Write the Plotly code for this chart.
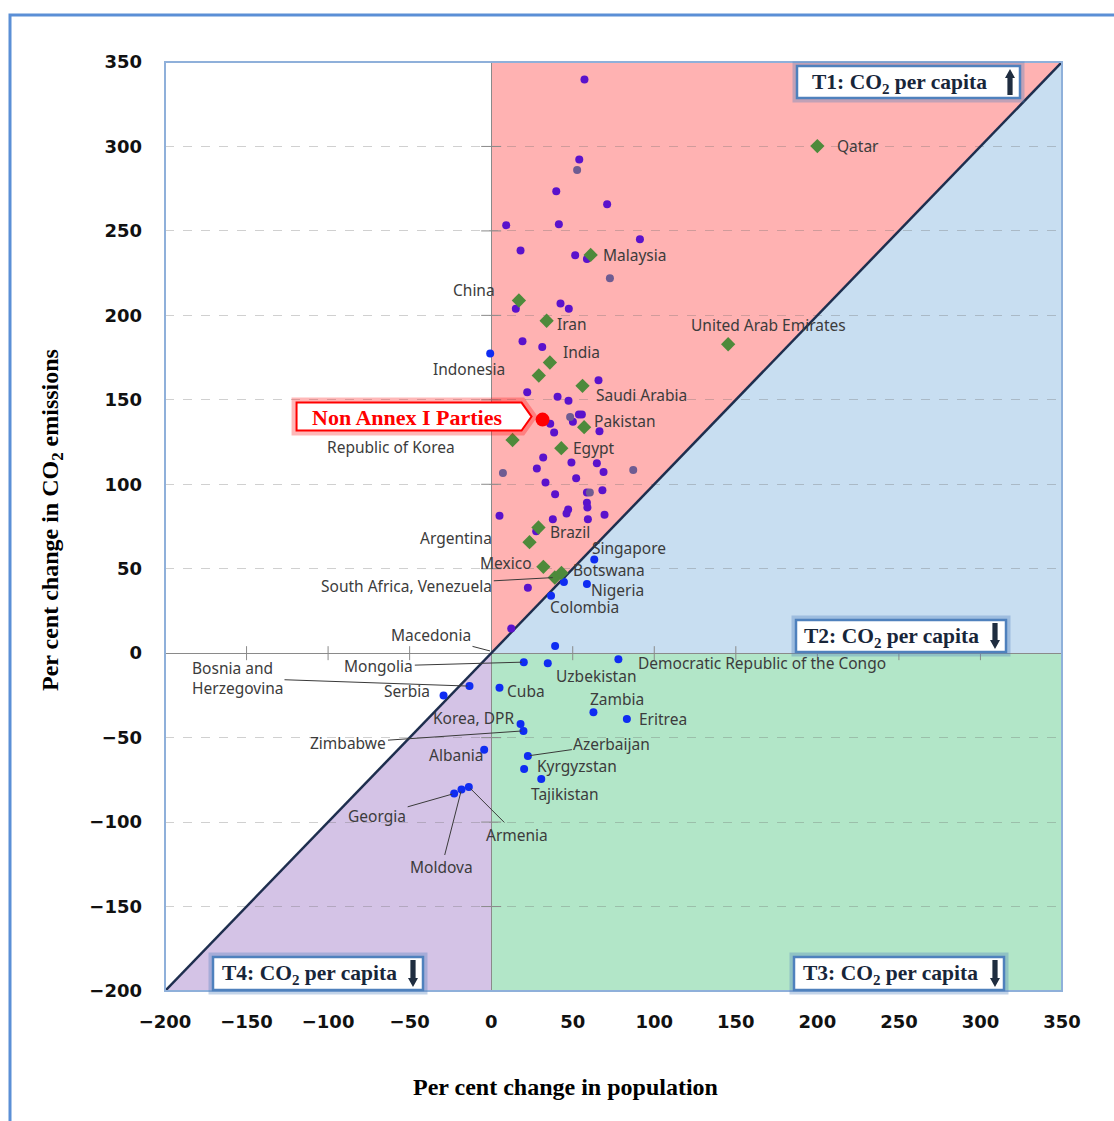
import plotly.graph_objects as go

# ---------------------------------------------------------------- data
X_RANGE = [-200, 350]
Y_RANGE = [-200, 350]
TICK_VALUES = [-200, -150, -100, -50, 0, 50, 100, 150, 200, 250, 300, 350]

# unlabelled parties in T1 (population up, CO2 per capita up)
t1_x = [57.2, 54.0, 39.9, 71.1, 9.2, 41.5, 91.2, 18.0, 51.5, 58.7, 42.5, 15.1,
        47.6, 19.2, 31.3, 65.8, 22.1, 40.7, 47.4, 53.8, 55.6, 50.1, 36.2, 38.6,
        66.4, 31.9, 28.0, 49.2, 64.8, 68.9, 52.1, 33.3, 58.7, 68.2, 39.2, 58.7,
        59.0, 47.2, 46.2, 5.1, 69.5, 37.8, 59.3, 27.6, 22.5, 12.3]
t1_y = [339.6, 292.3, 273.5, 265.8, 253.4, 254.0, 245.0, 238.4, 235.6, 233.3,
        207.0, 203.9, 203.9, 184.7, 181.2, 161.6, 154.5, 151.8, 149.4, 141.3,
        141.3, 137.0, 135.8, 130.7, 131.4, 115.9, 109.3, 112.9, 112.5, 107.2,
        103.6, 101.1, 95.1, 96.5, 94.1, 89.0, 86.3, 85.1, 82.7, 81.3, 81.9,
        79.3, 79.3, 72.2, 38.7, 14.6]

# unlabelled parties drawn in a muted tone
muted_x = [52.7, 72.8, 48.4, 7.2, 87.1, 60.5]
muted_y = [286.0, 222.0, 139.9, 106.6, 108.5, 95.1]

# unlabelled parties drawn in blue
blue_x = [-0.6, 39.2]
blue_y = [177.4, 4.3]

# labelled major emitters (diamonds)
major_names = ["Qatar", "Malaysia", "China", "Iran", "United Arab Emirates",
               "India", "Indonesia", "Saudi Arabia", "Pakistan",
               "Republic of Korea", "Egypt", "Brazil", "Argentina", "Mexico",
               "South Africa, Venezuela", "Venezuela"]
major_x = [200.0, 61.0, 17.0, 34.0, 145.3, 36.0, 29.2, 56.0, 57.0, 13.1, 43.0,
           29.0, 23.5, 32.0, 39.0, 43.1]
major_y = [300.2, 235.8, 208.8, 196.8, 182.9, 172.1, 164.4, 158.3, 133.8,
           126.2, 121.4, 74.4, 65.7, 51.1, 44.8, 47.5]

# labelled parties with falling CO2 per capita (blue dots)
other_names = ["Singapore", "Botswana", "Nigeria", "Colombia", "Mongolia",
               "Uzbekistan", "Democratic Republic of the Congo",
               "Bosnia and<br>Herzegovina", "Serbia", "Cuba", "Zambia",
               "Eritrea", "Korea, DPR", "Zimbabwe", "Azerbaijan", "Albania",
               "Kyrgyzstan", "Tajikistan", "Georgia", "Armenia", "Moldova"]
other_x = [63.2, 44.6, 58.7, 36.7, 20.0, 34.7, 78.0, -13.3, -29.2, 5.1, 62.7,
           83.2, 18.0, 19.8, 22.5, -4.3, 20.2, 30.7, -22.7, -13.7, -18.2]
other_y = [55.5, 42.2, 41.0, 34.0, -5.3, -5.9, -3.6, -19.5, -25.0, -20.5,
           -34.9, -38.9, -42.0, -46.0, -60.8, -57.2, -68.5, -74.5, -83.1,
           -79.2, -80.7]

# aggregate of all Non Annex I Parties
non_annex_x = 31.5
non_annex_y = 138.3
MACEDONIA_ANCHOR = (0.5, 1.0)

# label placement: text-centre offset in px from the mark, and leader line flag
LABEL_STYLE = {
    "Qatar": (41, 0, False), "Malaysia": (44, 0, False), "China": (-45, -11, False),
    "Iran": (25, 3, False), "United Arab Emirates": (40, -19, False),
    "India": (32, -10, False), "Indonesia": (-70, -7, False),
    "Saudi Arabia": (59, 9, False), "Pakistan": (41, -6, False),
    "Republic of Korea": (-122, 7, False), "Egypt": (33, 0, False),
    "Brazil": (32, 4, False), "Argentina": (-74, -4, False),
    "Mexico": (-37, -4, False), "South Africa, Venezuela": (-148, 8, True),
    "Singapore": (35, -11, False), "Botswana": (45, -12, False),
    "Nigeria": (31, 6, False), "Colombia": (33, 11, False),
    "Mongolia": (-145, 4, True), "Uzbekistan": (48, 13, False),
    "Democratic Republic of the Congo": (144, 4, False),
    "Bosnia and<br>Herzegovina": (-232, -8, True), "Serbia": (-37, -4, False),
    "Cuba": (26, 3, False), "Zambia": (24, -13, False), "Eritrea": (36, 0, False),
    "Korea, DPR": (-47, -6, False), "Zimbabwe": (-175, 12, True),
    "Azerbaijan": (84, -12, True), "Albania": (-28, 5, False),
    "Kyrgyzstan": (53, -3, False), "Tajikistan": (24, 15, False),
    "Georgia": (-77, 22, True), "Armenia": (48, 48, True), "Moldova": (-20, 78, True),
    "Macedonia": (-61, -16, True),
}

# ---------------------------------------------------------------- geometry
W, H = 1114, 1121
M_L, M_R, M_T, M_B = 165, 52, 62, 130
PW, PH = W - M_L - M_R, H - M_T - M_B


def paper(px, py):
    """Convert a page pixel position to paper coordinates."""
    return (px - M_L) / PW, (M_T + PH - py) / PH


def to_px(x, y):
    sx = PW / (X_RANGE[1] - X_RANGE[0])
    sy = PH / (Y_RANGE[1] - Y_RANGE[0])
    return M_L + (x - X_RANGE[0]) * sx, M_T + (Y_RANGE[1] - y) * sy


def paper_text(px, py, text, font, **kw):
    x, y = paper(px, py)
    return dict(xref="paper", yref="paper", x=x, y=y, xanchor="center",
                yanchor="middle", showarrow=False, text=text, font=font, **kw)


PINK, BLUE_Q, GREEN_Q, PURPLE_Q = "#FFB2B2", "#C8DEF1", "#B2E6C8", "#D4C3E6"
xmin, xmax = X_RANGE
ymin, ymax = Y_RANGE

fig = go.Figure()

shapes = []
# quadrant fills
shapes.append(dict(type="path", xref="x", yref="y", layer="below", line_width=0,
                   fillcolor=PINK, path=f"M0,0 L0,{ymax} L{ymax},{ymax} Z"))
shapes.append(dict(type="path", xref="x", yref="y", layer="below", line_width=0,
                   fillcolor=BLUE_Q, path=f"M0,0 L{xmax},{xmax} L{xmax},0 Z"))
shapes.append(dict(type="path", xref="x", yref="y", layer="below", line_width=0,
                   fillcolor=GREEN_Q, path=f"M0,0 L{xmax},0 L{xmax},{ymin} L0,{ymin} Z"))
shapes.append(dict(type="path", xref="x", yref="y", layer="below", line_width=0,
                   fillcolor=PURPLE_Q, path=f"M0,0 L0,{ymin} L{ymin},{ymin} Z"))

# cross ticks on the zero axes
for v in TICK_VALUES:
    if v == 0:
        continue
    if xmin < v < xmax:
        shapes.append(dict(type="line", xref="x", yref="y", x0=v, x1=v,
                           ysizemode="pixel", yanchor=0, y0=-7, y1=7,
                           line=dict(color="#8A8A8A", width=1), layer="between"))
    if ymin < v < ymax:
        shapes.append(dict(type="line", xref="x", yref="y", y0=v, y1=v,
                           xsizemode="pixel", xanchor=0, x0=-10, x1=10,
                           line=dict(color="#8A8A8A", width=1), layer="between"))

# equal-growth diagonal (constant CO2 per capita)
shapes.append(dict(type="line", xref="x", yref="y", x0=max(xmin, ymin), y0=max(xmin, ymin),
                   x1=min(xmax, ymax), y1=min(xmax, ymax), layer="between",
                   line=dict(color="#1E2E4E", width=2.5)))

# plot frame and outer frame
shapes.append(dict(type="rect", xref="paper", yref="paper", x0=0, y0=0, x1=1, y1=1,
                   line=dict(color="#8FB0DA", width=2), layer="above"))
ox0, oy0 = paper(10, 1130)
ox1, oy1 = paper(1125, 15)
shapes.append(dict(type="rect", xref="paper", yref="paper", x0=ox0, y0=oy0, x1=ox1, y1=oy1,
                   line=dict(color="#5B8FD6", width=3), layer="above"))

annotations = []

# quadrant tag boxes
TAG_FONT = dict(family="Liberation Serif", size=21.5, color="#18263A", weight="bold")
TAGS = [
    ("T1", (797, 66, 1020, 98), "up", 1010),
    ("T2", (796, 620, 1006, 652), "down", 995),
    ("T3", (794, 957, 1004, 990), "down", 995),
    ("T4", (213, 957, 423, 990), "down", 413),
]
for tag, (bx0, by0, bx1, by1), direction, arrow_x in TAGS:
    a0, b0 = paper(bx0, by1)
    a1, b1 = paper(bx1, by0)
    shapes.append(dict(type="rect", xref="paper", yref="paper", x0=a0, y0=b0, x1=a1, y1=b1,
                       line=dict(color="rgba(79,129,189,0.35)", width=9), layer="above"))
    shapes.append(dict(type="rect", xref="paper", yref="paper", x0=a0, y0=b0, x1=a1, y1=b1,
                       fillcolor="white", line=dict(color="#4F81BD", width=2.5),
                       layer="above"))
    annotations.append(paper_text((bx0 + arrow_x - 8) / 2, (by0 + by1) / 2 + 1,
                                  f"{tag}: CO<sub>2</sub> per capita", TAG_FONT))
    top, bot = by0 + 3, by1 - 3
    if direction == "up":
        tip, base, head_end = top, bot, top + 9
    else:
        tip, base, head_end = bot, top, bot - 9
    hw, sw = 5, 2.6
    pts = [(arrow_x - sw, base), (arrow_x + sw, base), (arrow_x + sw, head_end),
           (arrow_x + hw, head_end), (arrow_x, tip), (arrow_x - hw, head_end),
           (arrow_x - sw, head_end)]
    path = "M" + " L".join(f"{paper(px, py)[0]:.5f},{paper(px, py)[1]:.5f}" for px, py in pts) + " Z"
    shapes.append(dict(type="path", xref="paper", yref="paper", path=path,
                       fillcolor="#1F2D40", line_width=0, layer="above"))

# Non Annex I callout pointing at the aggregate mark
npx, npy = to_px(non_annex_x, non_annex_y)
tip_x, tip_y = npx - 11, npy - 3
c_right, c_left = tip_x - 10, tip_x - 235
c_top, c_bot = tip_y - 14, tip_y + 14
call_pts = [(c_left, c_top), (c_right, c_top), (tip_x, tip_y), (c_right, c_bot), (c_left, c_bot)]
call_path = "M" + " L".join(f"{paper(px, py)[0]:.5f},{paper(px, py)[1]:.5f}" for px, py in call_pts) + " Z"
shapes.append(dict(type="path", xref="paper", yref="paper", path=call_path,
                   line=dict(color="rgba(255,0,0,0.28)", width=10), layer="above"))
shapes.append(dict(type="path", xref="paper", yref="paper", path=call_path,
                   fillcolor="white", line=dict(color="#FF0000", width=2), layer="above"))
annotations.append(paper_text((c_left + c_right) / 2 - 2, tip_y + 1, "Non Annex I Parties",
                              dict(family="Liberation Serif", size=22, color="#FF0000",
                                   weight="bold")))

# ---------------------------------------------------------------- marks
fig.add_trace(go.Scatter(x=t1_x, y=t1_y, mode="markers", hoverinfo="skip",
                         marker=dict(color="#5A12CC", size=8, line_width=0)))
fig.add_trace(go.Scatter(x=muted_x, y=muted_y, mode="markers", hoverinfo="skip",
                         marker=dict(color="#6E5C92", size=8, line_width=0)))
fig.add_trace(go.Scatter(x=blue_x + other_x, y=blue_y + other_y, mode="markers",
                         hoverinfo="skip",
                         marker=dict(color="#0F2CF2", size=8, line_width=0)))
fig.add_trace(go.Scatter(x=major_x, y=major_y, mode="markers", hoverinfo="skip",
                         marker=dict(color="#4E8A3B", size=11, symbol="diamond",
                                     line_width=0)))
fig.add_trace(go.Scatter(x=[non_annex_x], y=[non_annex_y], mode="markers",
                         hoverinfo="skip",
                         marker=dict(color="#FF0000", size=14, line_width=0)))

# ---------------------------------------------------------------- labels
LABEL_FONT = dict(family="Noto Sans", size=15.5, color="#3C3C3C")
labelled = list(zip(major_names, major_x, major_y)) + list(zip(other_names, other_x, other_y))
labelled.append(("Macedonia",) + MACEDONIA_ANCHOR)
for name, x, y in labelled:
    if name not in LABEL_STYLE:
        continue
    ax, ay, leader = LABEL_STYLE[name]
    annotations.append(dict(
        x=x, y=y, xref="x", yref="y", text=name, ax=ax, ay=ay,
        showarrow=True, arrowhead=0, arrowwidth=1, standoff=2,
        arrowcolor="#3A3A3A" if leader else "rgba(0,0,0,0)",
        align="left", font=LABEL_FONT))

# axis titles
annotations.append(paper_text(52, 520, "Per cent change in CO<sub>2</sub> emissions",
                              dict(family="Liberation Serif", size=24, color="black",
                                   weight="bold"), textangle=-90))
annotations.append(paper_text(565, 1087, "Per cent change in population",
                              dict(family="Liberation Serif", size=24, color="black",
                                   weight="bold")))

TICK_FONT = dict(family="DejaVu Sans", size=18, color="#111111", weight="bold")
fig.update_layout(
    width=W, height=H,
    margin=dict(l=M_L, r=M_R, t=M_T, b=M_B),
    paper_bgcolor="white", plot_bgcolor="white",
    showlegend=False,
    shapes=shapes, annotations=annotations,
    xaxis=dict(range=X_RANGE, tickvals=TICK_VALUES, showgrid=False,
               zeroline=True, zerolinecolor="#8A8A8A", zerolinewidth=1,
               showline=False, ticks="", tickfont=TICK_FONT,
               ticklabelstandoff=18, fixedrange=True),
    yaxis=dict(range=Y_RANGE, tickvals=TICK_VALUES, showgrid=True,
               gridcolor="rgba(110,110,110,0.32)", griddash="dash", gridwidth=1,
               zeroline=True, zerolinecolor="#8A8A8A", zerolinewidth=1,
               showline=False, ticks="", tickfont=TICK_FONT,
               ticklabelstandoff=22, fixedrange=True),
)

fig.write_html("out.html")
